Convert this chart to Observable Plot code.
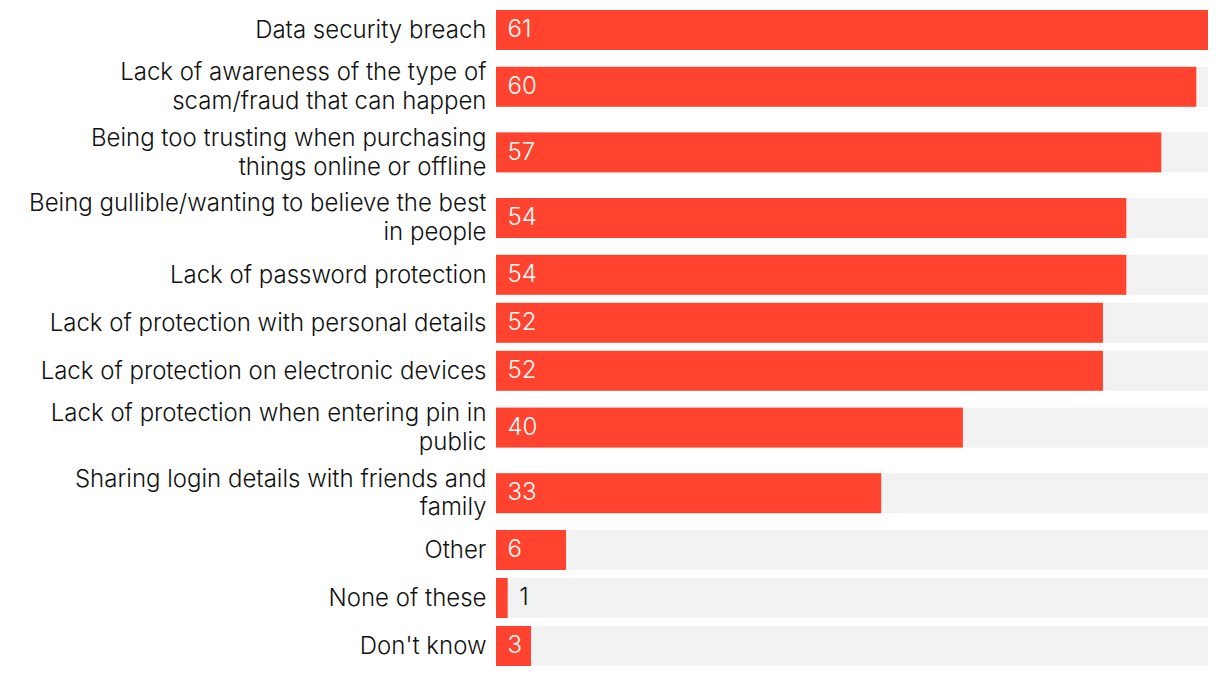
<!DOCTYPE html>
<html>
<head>
<meta charset="utf-8">
<script src="https://cdn.jsdelivr.net/npm/d3@7"></script>
<script src="https://cdn.jsdelivr.net/npm/@observablehq/plot@0.6"></script>
<style>
  html, body { margin: 0; padding: 0; background: #ffffff; }
  #chart { width: 1220px; height: 676px; }
</style>
</head>
<body>
<div id="chart"></div>
<script>
// ---- data ----
const categories = [
  "Data security breach",
  "Lack of awareness of the type of\nscam/fraud that can happen",
  "Being too trusting when purchasing\nthings online or offline",
  "Being gullible/wanting to believe the best\nin people",
  "Lack of password protection",
  "Lack of protection with personal details",
  "Lack of protection on electronic devices",
  "Lack of protection when entering pin in\npublic",
  "Sharing login details with friends and\nfamily",
  "Other",
  "None of these",
  "Don't know"
];
const values = [61, 60, 57, 54, 54, 52, 52, 40, 33, 6, 1, 3];

// ---- layout (rows grow with the number of label lines) ----
const fontSize = 24;
const lineH = 28.8;
const barH = 40;
const gap = 8;
const maxV = d3.max(values);

let cursor = 10;
const rows = categories.map((label, i) => {
  const lines = label.split("\n").length;
  const rowH = Math.max(barH, lines * lineH);
  const top = cursor + (rowH - barH) / 2;
  const row = {label, value: values[i], top, bottom: top + barH, mid: cursor + rowH / 2};
  cursor += rowH + gap;
  return row;
});
const inside = rows.filter(d => d.value >= 3);
const outside = rows.filter(d => d.value < 3);

const chart = Plot.plot({
  width: 1220,
  height: 676,
  margin: 0,
  x: {domain: [0, maxV], range: [496, 1208], axis: null},
  y: {domain: [0, 676], range: [0, 676], axis: null},
  style: {fontFamily: "Inter, sans-serif", background: "#ffffff"},
  marks: [
    Plot.rect(rows, {x1: 0, x2: maxV, y1: "top", y2: "bottom", fill: "#f2f2f2"}),
    Plot.rect(rows, {x1: 0, x2: "value", y1: "top", y2: "bottom", fill: "#ff432e"}),
    Plot.text(rows, {
      x: 0, y: "mid", text: "label", textAnchor: "end", dx: -10, dy: -2,
      lineAnchor: "middle", lineHeight: lineH / fontSize,
      fontSize, fontWeight: 350, fill: "#111111"
    }),
    Plot.text(inside, {
      x: 0, y: "mid", text: d => String(d.value), textAnchor: "start", dx: 11, dy: -1,
      fontSize, fontWeight: 350, fill: "#ffffff"
    }),
    Plot.text(outside, {
      x: "value", y: "mid", text: d => String(d.value), textAnchor: "start", dx: 11, dy: -1,
      fontSize, fontWeight: 350, fill: "#111111"
    })
  ]
});
document.getElementById("chart").appendChild(chart);
</script>
</body>
</html>
